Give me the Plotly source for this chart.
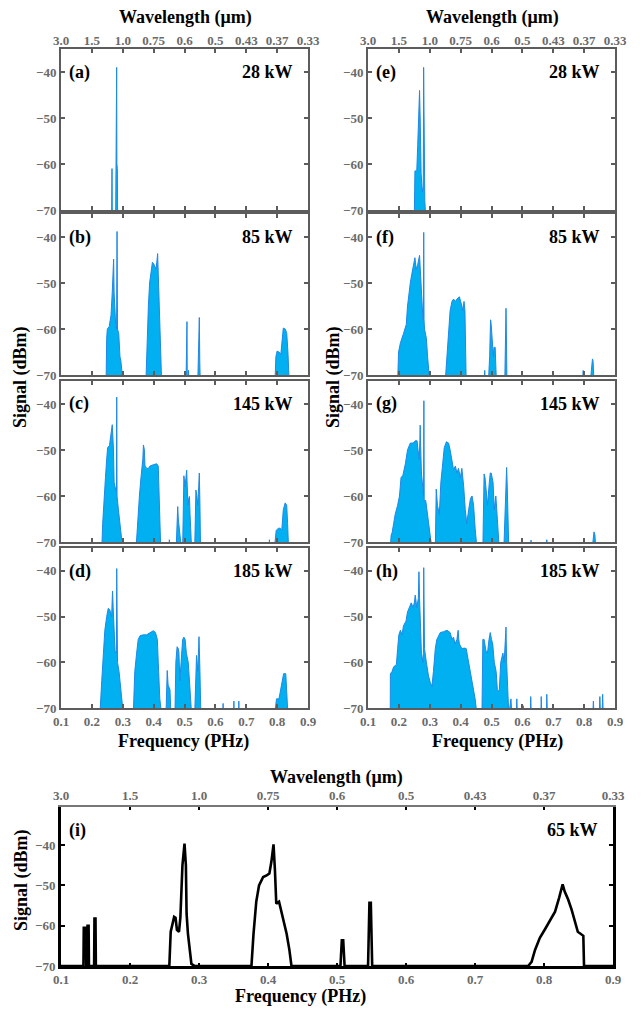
import plotly.graph_objects as go

# page body has an 8 px default margin, so the figure is drawn 8 px smaller and offset
PAGE_W, PAGE_H, BODY = 643, 1009, 8
W, H = PAGE_W - BODY, PAGE_H - BODY

# ---------------- data (frequency in PHz, signal in dBm) ----------------
freq_ticks = [0.1, 0.2, 0.3, 0.4, 0.5, 0.6, 0.7, 0.8, 0.9]
wavelength_labels = ["3.0", "1.5", "1.0", "0.75", "0.6", "0.5", "0.43", "0.37", "0.33"]
signal_ticks = [-70, -60, -50, -40]
noise_floor = -70  # values at the floor are below the detection limit

freq_a = [0.10, 0.264, 0.2652, 0.2662, 0.277, 0.278, 0.2795, 0.2803, 0.281, 0.2818, 0.2825, 0.2835, 0.285, 0.90]
sig_a = [-70, -70, -61, -70, -70, -60, -60, -39, -60, -61, -61, -70, -70, -70]

freq_b = [0.10, 0.246, 0.248, 0.250, 0.256, 0.262, 0.266, 0.269, 0.2705, 0.272, 0.274, 0.277, 0.280, 0.2815, 0.283,
          0.287, 0.291, 0.294, 0.297, 0.300,
          0.375, 0.379, 0.383, 0.387, 0.392, 0.396, 0.400, 0.404, 0.408, 0.411, 0.413, 0.415, 0.418, 0.421, 0.424, 0.426,
          0.505, 0.506, 0.508, 0.509, 0.512, 0.513, 0.514,
          0.543, 0.545, 0.547, 0.548, 0.5495, 0.551,
          0.793, 0.796, 0.800, 0.806, 0.812, 0.816, 0.820, 0.826, 0.831, 0.835, 0.839, 0.90]
sig_b = [-70, -70, -62, -60, -59.5, -57, -52, -45, -44.8, -52, -57, -59, -60, -38.8, -60,
         -61, -66, -67, -69, -70,
         -70, -62, -55, -50, -47, -45.5, -45.8, -46.5, -47, -45, -43.6, -48, -55, -62, -68, -70,
         -70, -58.4, -58.4, -70, -70, -69, -70,
         -70, -67, -57.5, -57.5, -67, -70,
         -70, -66, -64.8, -65, -65.5, -62, -59.8, -60, -60.8, -65, -70, -70]

freq_c = [0.10, 0.232, 0.235, 0.239, 0.244, 0.248, 0.251, 0.257, 0.262, 0.266, 0.270, 0.272, 0.275, 0.278, 0.2795,
          0.2805, 0.2815, 0.286, 0.291, 0.297, 0.300,
          0.343, 0.348, 0.354, 0.359, 0.365, 0.367, 0.370, 0.372, 0.378, 0.383, 0.388, 0.399, 0.410, 0.415, 0.419, 0.423,
          0.450, 0.451, 0.452,
          0.473, 0.476, 0.478, 0.480, 0.484, 0.490,
          0.494, 0.498, 0.502, 0.505, 0.507, 0.509, 0.511, 0.514, 0.516, 0.518, 0.520, 0.523,
          0.533, 0.536, 0.537, 0.540, 0.543, 0.546, 0.548, 0.550, 0.552,
          0.774, 0.775, 0.776,
          0.791, 0.797, 0.804, 0.810, 0.815, 0.820, 0.826, 0.831, 0.834, 0.837, 0.90]
sig_c = [-70, -70, -66, -60, -56, -52, -49.5, -49, -47, -44.5, -50, -57, -58, -59, -59,
         -38.5, -60, -63, -66, -69, -70,
         -70, -65, -60, -56, -52, -48.9, -50, -53.5, -54, -54, -53.5, -53.2, -53, -53.5, -60, -70,
         -70, -69.5, -70,
         -70, -65, -62.3, -65, -68, -70,
         -70, -55.6, -58, -55, -54.4, -58, -62, -60.5, -60.1, -64, -67, -70,
         -70, -60, -58.7, -60, -62, -58, -55, -62, -70,
         -70, -69.5, -70,
         -70, -67.5, -67, -67, -67.5, -63, -61.5, -62, -66, -70, -70]

freq_d = [0.10, 0.226, 0.232, 0.237, 0.242, 0.248, 0.253, 0.258, 0.264, 0.266, 0.267, 0.269, 0.271, 0.275, 0.278,
          0.2795, 0.2805, 0.2815, 0.283, 0.288, 0.293, 0.298, 0.302,
          0.334, 0.339, 0.345, 0.350, 0.356, 0.366, 0.377, 0.388, 0.399, 0.406, 0.412, 0.415, 0.420, 0.426,
          0.440, 0.444, 0.447, 0.453, 0.456,
          0.469, 0.472, 0.476, 0.480, 0.482, 0.485, 0.489, 0.494, 0.498, 0.502, 0.506, 0.512, 0.517, 0.523,
          0.533, 0.539, 0.543, 0.547, 0.550, 0.553,
          0.624, 0.625, 0.626, 0.659, 0.660, 0.661, 0.675, 0.676, 0.677,
          0.792, 0.798, 0.806, 0.814, 0.821, 0.828, 0.832, 0.835, 0.90]
sig_d = [-70, -70, -64, -58, -53, -50, -48.2, -48.5, -50, -46, -44.4, -48, -52, -57.5, -58,
         -58, -39.5, -59, -60, -62, -65.5, -69, -70,
         -70, -62, -58, -55, -54.2, -54, -54, -53.5, -53.1, -53.5, -55, -60, -68, -70,
         -70, -61.8, -65, -66, -70,
         -70, -60, -56.6, -57, -58, -64, -60, -55, -54.5, -55, -58, -60, -65, -70,
         -70, -58.5, -62, -54.4, -62, -70,
         -70, -69, -70, -70, -68.5, -70, -70, -68.5, -70,
         -70, -68, -68, -65, -62.5, -62.5, -66, -70, -70]

freq_e = [0.10, 0.250, 0.252, 0.258, 0.261, 0.264, 0.267, 0.269, 0.272, 0.276, 0.279, 0.2802, 0.2815, 0.284, 0.287, 0.90]
sig_e = [-70, -70, -61.5, -61.5, -56, -48, -44, -50, -62, -66, -65, -39, -65, -68, -70, -70]

freq_f = [0.10, 0.196, 0.199, 0.205, 0.215, 0.224, 0.228, 0.232, 0.237, 0.242, 0.248, 0.252, 0.256, 0.261, 0.267,
          0.272, 0.275, 0.278, 0.2795, 0.2805, 0.2815, 0.283, 0.289, 0.293, 0.300,
          0.350, 0.355, 0.361, 0.366, 0.372, 0.377, 0.383, 0.388, 0.396, 0.401, 0.404, 0.407, 0.411, 0.414, 0.416, 0.418,
          0.476, 0.478, 0.480,
          0.490, 0.494, 0.497, 0.499, 0.501, 0.504, 0.506, 0.508, 0.512, 0.514, 0.516,
          0.543, 0.545, 0.547, 0.548, 0.550,
          0.795, 0.797, 0.799, 0.820, 0.824, 0.827, 0.829, 0.832, 0.90]
sig_f = [-70, -70, -65, -63, -61, -59, -55, -52, -50, -48, -46, -44.5, -47, -46, -44,
         -52, -56, -58, -58, -39, -58, -60, -62, -66, -70,
         -70, -66, -60, -56, -54, -53.5, -54, -53.5, -53, -54, -55, -56, -54, -56, -64, -70,
         -70, -69, -70,
         -70, -66, -58, -59, -61, -64, -66, -64, -64, -68, -70,
         -70, -64, -55.5, -60, -70,
         -70, -69, -70, -70, -67.5, -66.5, -67, -70, -70]

freq_g = [0.10, 0.172, 0.175, 0.178, 0.183, 0.188, 0.196, 0.202, 0.207, 0.213, 0.221, 0.228, 0.237, 0.246, 0.253,
          0.259, 0.262, 0.266, 0.268, 0.269, 0.270, 0.273, 0.276, 0.279, 0.280, 0.281, 0.282, 0.287, 0.291, 0.296,
          0.302, 0.307,
          0.318, 0.320, 0.321, 0.325, 0.331, 0.336, 0.342, 0.347, 0.354, 0.361, 0.366, 0.372, 0.377, 0.383, 0.388,
          0.393, 0.399, 0.404, 0.410, 0.415, 0.420, 0.426, 0.432, 0.437, 0.442, 0.447, 0.453,
          0.472, 0.476, 0.479, 0.482, 0.487, 0.493, 0.496, 0.499, 0.502, 0.505, 0.509, 0.514, 0.518, 0.520, 0.525,
          0.540, 0.544, 0.549, 0.551, 0.553, 0.556,
          0.627, 0.628, 0.630, 0.678, 0.679, 0.681,
          0.826, 0.829, 0.832, 0.835, 0.838, 0.90]
sig_g = [-70, -70, -68.5, -68, -66, -64, -62, -60, -56, -55.5, -53, -50, -48.5, -48.5, -48,
         -48, -50, -52, -48, -44.6, -48, -55, -58, -60, -60, -39.3, -61, -61, -63, -66,
         -69, -70,
         -70, -60, -58.5, -62, -64, -57, -52, -49.5, -48.2, -48.5, -50, -53, -54.3, -53.5, -55,
         -54, -56, -54, -58, -63, -66, -63, -60.5, -60, -62, -67, -70,
         -70, -55.2, -56, -58, -62, -57, -55, -55, -56, -57, -63, -60, -64, -67, -70,
         -70, -65, -53.8, -58, -62, -70,
         -70, -69.6, -70, -70, -69.5, -70,
         -70, -69, -67.8, -68.5, -70, -70]

freq_h = [0.10, 0.172, 0.1725, 0.178, 0.183, 0.192, 0.196, 0.200, 0.205, 0.210, 0.215, 0.223, 0.228, 0.235, 0.240,
          0.246, 0.250, 0.253, 0.256, 0.258, 0.263, 0.265, 0.267, 0.270, 0.273, 0.278, 0.2795, 0.2805, 0.2815,
          0.283, 0.289, 0.296, 0.302, 0.307, 0.312, 0.318, 0.323, 0.329, 0.334, 0.345, 0.356, 0.366, 0.372, 0.377,
          0.382, 0.388, 0.392, 0.394, 0.396, 0.404, 0.412, 0.418, 0.426, 0.433, 0.442, 0.447, 0.453,
          0.469, 0.472, 0.476, 0.482, 0.487, 0.492, 0.496, 0.500, 0.504, 0.509, 0.515, 0.519, 0.525, 0.530, 0.537,
          0.541, 0.544, 0.547, 0.549, 0.552, 0.556, 0.563, 0.566,
          0.580, 0.582, 0.584, 0.602, 0.603, 0.605, 0.626, 0.627, 0.629, 0.660, 0.661, 0.663, 0.678, 0.679, 0.681,
          0.699, 0.700, 0.702, 0.828, 0.830, 0.832, 0.849, 0.851, 0.853, 0.858, 0.860, 0.862, 0.90]
sig_h = [-70, -70, -62.5, -62, -61, -60.5, -57, -54, -53, -54, -52, -51, -49, -48, -47,
         -48, -47, -45.3, -47, -48, -46, -40.2, -46, -54, -58, -60, -58, -39.3, -56,
         -57, -60, -63, -64.5, -65.3, -62, -57, -55, -54, -53.5, -53.3, -53, -53.5, -55, -54.5,
         -56, -55, -53, -55, -56, -57, -56.9, -57, -60, -62, -66, -68, -70,
         -70, -55, -55, -57.5, -58, -55, -53.5, -55, -56, -60, -62, -66, -66.4, -60, -58,
         -60, -56, -52.3, -60, -66, -70, -68, -70,
         -70, -68, -70, -70, -69.5, -70, -70, -67.5, -70, -70, -67.5, -70, -70, -67, -70,
         -70, -69.5, -70, -70, -68.5, -70, -70, -67.5, -70, -70, -67, -70, -70]

freq_i = [0.10, 0.1325, 0.133, 0.136, 0.1365, 0.138, 0.1385, 0.140, 0.1405, 0.148, 0.1485, 0.150, 0.1505,
          0.257, 0.259, 0.261, 0.264, 0.266, 0.268, 0.271, 0.273, 0.276, 0.279, 0.281, 0.282, 0.284, 0.287, 0.289,
          0.294,
          0.376, 0.379, 0.381, 0.383, 0.387, 0.393, 0.398, 0.402, 0.405, 0.408, 0.410, 0.412, 0.416, 0.420, 0.423,
          0.427, 0.431, 0.434,
          0.505, 0.507, 0.509, 0.511,
          0.545, 0.547, 0.549, 0.551,
          0.777, 0.782, 0.787, 0.794, 0.801, 0.808, 0.816, 0.822, 0.827, 0.830, 0.835, 0.840, 0.845, 0.849, 0.857,
          0.858, 0.90]
sig_i = [-70, -70, -60.5, -60.5, -70, -70, -60, -60, -70, -70, -58.2, -58.2, -70,
         -70, -61.5, -60, -57.8, -58, -61, -61.5, -58, -45, -39.6, -45, -57, -62, -67, -69.5,
         -70,
         -70, -62, -58, -54, -50, -47.9, -47.5, -47, -44, -39.8, -46, -54.5, -54, -57, -59,
         -62, -66, -70,
         -70, -63.6, -63.6, -70,
         -70, -54.3, -54.3, -70,
         -70, -69, -66, -63, -61, -59, -56.5, -53, -49.7, -51.5, -53.5, -56, -59, -61.5, -62.5,
         -70, -70]

panel_labels = ["(a)", "(b)", "(c)", "(d)", "(e)", "(f)", "(g)", "(h)", "(i)"]
pump_powers = ["28 kW", "85 kW", "145 kW", "185 kW", "28 kW", "85 kW", "145 kW", "185 kW", "65 kW"]

# ---------------- layout helpers (positions given in page pixels) ----------------
def fx(p):
    return (p - BODY) / W


def fy(p):
    return 1 - (p - BODY) / H


FILL = "rgb(0,176,240)"
EDGE = "rgb(30,136,229)"
GRAY = "#5c5c5c"
TICKFONT = dict(family="Liberation Serif", size=13, color="#6a6a6a", weight="bold")
TITLEFONT = dict(family="Liberation Serif", size=18, color="black", weight="bold")

cols = {"L": (61, 308), "R": (368, 615)}
rows = [(49, 210), (214, 375), (381, 542), (548, 708)]

series = [(freq_a, sig_a), (freq_b, sig_b), (freq_c, sig_c), (freq_d, sig_d),
          (freq_e, sig_e), (freq_f, sig_f), (freq_g, sig_g), (freq_h, sig_h), (freq_i, sig_i)]

panels = []
for ci, col in enumerate(["L", "R"]):
    for ri in range(4):
        panels.append(dict(col=cols[col], row=rows[ri], bottom=(ri == 3), top=(ri == 0)))
panels.append(dict(col=(61, 613), row=(807, 966), bottom=True, top=True))

fig = go.Figure()
layout = dict(width=W, height=H, margin=dict(l=0, r=0, t=0, b=0, autoexpand=False),
              paper_bgcolor="white", plot_bgcolor="white", showlegend=False, template="none")
annotations = []

common = dict(showgrid=False, zeroline=False, automargin=False, tickangle=0, tickfont=TICKFONT)

for k, (p, (fr, sg)) in enumerate(zip(panels, series), start=1):
    xs = "x" if k == 1 else f"x{k}"
    ys = "y" if k == 1 else f"y{k}"
    xa = "xaxis" if k == 1 else f"xaxis{k}"
    ya = "yaxis" if k == 1 else f"yaxis{k}"
    x0, x1 = p["col"]
    t, b = p["row"]
    bottom_panel = (k == 9)

    if bottom_panel:
        fig.add_trace(go.Scatter(x=fr, y=sg, mode="lines", line=dict(color="black", width=2.6),
                                 xaxis=xs, yaxis=ys, hoverinfo="skip", showlegend=False))
        layout[xa] = dict(domain=[fx(x0), fx(x1)], anchor=ys, range=[0.1, 0.9], tickvals=freq_ticks,
                          ticktext=[f"{v:.1f}" for v in freq_ticks], ticks="inside", ticklen=3,
                          tickwidth=2, tickcolor="black", showline=True, linecolor="black", linewidth=2.5,
                          mirror=False, **common)
        layout[ya] = dict(domain=[fy(b), fy(t)], anchor=xs, range=[-70, -30.5], tickvals=signal_ticks,
                          ticks="inside", ticklen=4, tickwidth=2, tickcolor="black", showline=True,
                          linecolor="black", linewidth=3, mirror="ticks", **common)
    else:
        # points at the noise floor are drawn just below the visible range so the outline hides under the frame
        y_plot = [v if v > noise_floor else noise_floor - 1.5 for v in sg]
        fig.add_trace(go.Scatter(x=fr, y=y_plot, mode="lines", fill="toself", fillcolor=FILL,
                                 line=dict(color=EDGE, width=1), xaxis=xs, yaxis=ys,
                                 hoverinfo="skip", showlegend=False))
        layout[xa] = dict(domain=[fx(x0), fx(x1)], anchor=ys, range=[0.1, 0.9], tickvals=freq_ticks,
                          ticktext=[f"{v:.1f}" for v in freq_ticks], showticklabels=p["bottom"],
                          ticks="inside", ticklen=4, tickwidth=1.5, tickcolor=GRAY, showline=True,
                          linecolor=GRAY, linewidth=2, mirror="ticks", **common)
        layout[ya] = dict(domain=[fy(b), fy(t)], anchor=xs, range=[-70, -35], tickvals=signal_ticks,
                          ticks="inside", ticklen=4, tickwidth=1.5, tickcolor=GRAY, showline=True,
                          linecolor=GRAY, linewidth=2, mirror="ticks", **common)

    # wavelength axis on top panels
    if p["top"]:
        n = {1: 10, 5: 11, 9: 12}[k]
        fig.add_trace(go.Scatter(x=[None], y=[None], xaxis=f"x{n}", yaxis=ys, hoverinfo="skip",
                                 showlegend=False))
        layout[f"xaxis{n}"] = dict(overlaying=xs, side="top", anchor=ys, range=[0.1, 0.9],
                                   tickvals=freq_ticks, ticktext=wavelength_labels,
                                   ticks="inside" if bottom_panel else "", ticklen=3, tickwidth=2,
                                   tickcolor="black", showline=bottom_panel, linecolor="#777",
                                   linewidth=1.5, **common)

    # panel label and pump power
    annotations.append(dict(x=fx(x0 + 6), y=fy(t + 23), xref="paper", yref="paper", text=panel_labels[k - 1],
                            showarrow=False, xanchor="left", yanchor="middle", font=TITLEFONT))
    annotations.append(dict(x=fx(x1 - 13), y=fy(t + 23), xref="paper", yref="paper", text=pump_powers[k - 1],
                            showarrow=False, xanchor="right", yanchor="middle", font=TITLEFONT))

# axis titles
titles = [
    ("Wavelength (μm)", 185, 18, 0), ("Wavelength (μm)", 492, 18, 0),
    ("Frequency (PHz)", 183, 741, 0), ("Frequency (PHz)", 497, 741, 0),
    ("Signal (dBm)", 20, 377, -90), ("Signal (dBm)", 333, 377, -90),
    ("Wavelength (μm)", 336, 777, 0), ("Frequency (PHz)", 300, 996, 0),
    ("Signal (dBm)", 21, 880, -90),
]
for txt, xp, yp, ang in titles:
    annotations.append(dict(x=fx(xp), y=fy(yp), xref="paper", yref="paper", text=txt, showarrow=False,
                            xanchor="center", yanchor="middle", textangle=ang, font=TITLEFONT))

layout["annotations"] = annotations
fig.update_layout(**layout)
fig.write_html("out.html")
